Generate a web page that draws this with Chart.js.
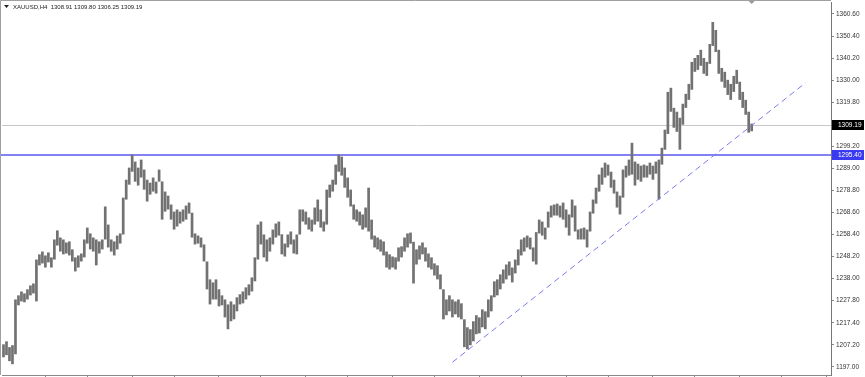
<!DOCTYPE html>
<html>
<head>
<meta charset="utf-8">
<script src="https://cdn.jsdelivr.net/npm/chart.js@4.4.1/dist/chart.umd.min.js"></script>
<style>
  html, body { margin: 0; padding: 0; background: #fff; }
  #wrap { width: 865px; height: 377px; position: relative; }
</style>
</head>
<body>
<div id="wrap"><canvas id="chart"></canvas></div>
<script>
// XAUUSD H4 - barres high/low
const symbol = 'XAUUSD,H4'
const lastBar = [ '1308.91', '1309.80', '1306.25', '1309.19' ] // O H L C

const highs = [
  1207.5, 1208.9, 1206.2, 1207.1, 1228.3, 1230.2, 1232.0, 1231.1, 1233.0, 1234.8,
  1235.7, 1246.8, 1249.2, 1250.5, 1248.7, 1250.1, 1247.8, 1256.1, 1260.3, 1257.0,
  1256.1, 1254.7, 1255.2, 1251.5, 1247.8, 1248.7, 1249.6, 1256.1, 1261.6, 1258.9,
  1257.0, 1256.1, 1255.2, 1256.1, 1271.4, 1263.0, 1256.1, 1255.2, 1257.9, 1258.9,
  1275.5, 1283.8, 1289.4, 1295.4, 1292.2, 1289.4, 1293.1, 1288.5, 1283.8, 1282.4,
  1284.8, 1282.9, 1288.5, 1283.0, 1278.3, 1276.4, 1272.3, 1269.0, 1270.0, 1269.0,
  1270.0, 1271.8, 1273.2, 1268.5, 1258.9, 1257.9, 1257.0, 1253.8, 1245.9, 1237.6,
  1236.2, 1237.6, 1233.0, 1230.2, 1228.3, 1226.0, 1227.4, 1226.0, 1229.3, 1230.7,
  1232.0, 1233.9, 1235.3, 1238.5, 1247.8, 1263.0, 1264.4, 1258.4, 1256.1, 1257.0,
  1260.7, 1263.5, 1264.4, 1258.5, 1254.2, 1258.4, 1259.8, 1256.1, 1258.4, 1270.0,
  1270.0, 1269.0, 1266.3, 1265.3, 1270.9, 1274.6, 1270.0, 1264.4, 1279.2, 1281.5,
  1283.8, 1290.8, 1295.4, 1294.5, 1289.4, 1284.8, 1279.2, 1272.3, 1270.0, 1269.0,
  1267.7, 1270.9, 1280.1, 1265.3, 1257.9, 1257.0, 1256.1, 1255.2, 1250.5, 1249.2,
  1248.2, 1247.8, 1252.4, 1252.9, 1257.0, 1258.9, 1259.3, 1255.0, 1251.5, 1253.3,
  1254.7, 1252.4, 1249.6, 1247.8, 1245.0, 1244.1, 1239.9, 1233.0, 1228.3, 1230.2,
  1228.3, 1227.4, 1228.3, 1226.5, 1219.1, 1215.4, 1214.5, 1218.2, 1221.0, 1220.0,
  1223.7, 1222.8, 1228.3, 1230.2, 1236.7, 1237.6, 1239.9, 1242.2, 1244.5, 1245.9,
  1243.1, 1246.8, 1251.5, 1256.1, 1257.0, 1257.9, 1257.0, 1252.4, 1259.5, 1265.3,
  1264.4, 1261.6, 1269.0, 1271.8, 1272.3, 1272.7, 1271.8, 1273.2, 1270.0, 1267.7,
  1274.6, 1271.8, 1260.7, 1261.2, 1261.6, 1260.7, 1269.0, 1274.6, 1280.1, 1286.2,
  1289.4, 1291.7, 1290.8, 1287.5, 1283.8, 1278.3, 1276.4, 1288.5, 1290.3, 1293.1,
  1300.9, 1292.2, 1291.2, 1290.3, 1290.8, 1290.3, 1291.7, 1290.3, 1292.2, 1293.1,
  1298.6, 1307.0, 1324.5, 1326.4, 1317.1, 1315.3, 1312.5, 1319.0, 1323.6, 1328.2,
  1338.4, 1340.2, 1341.6, 1344.0, 1340.2, 1338.4, 1346.7, 1356.9, 1353.2, 1344.0,
  1335.6, 1333.8, 1330.1, 1328.2, 1331.9, 1334.7, 1329.2, 1324.5, 1320.8, 1315.3,
  1309.8
]

const lows = [
  1201.5, 1202.5, 1199.7, 1198.3, 1202.9, 1225.6, 1227.4, 1227.0, 1228.3, 1230.2,
  1231.1, 1227.4, 1244.1, 1245.0, 1243.1, 1245.5, 1243.1, 1246.8, 1253.3, 1250.5,
  1249.2, 1249.6, 1248.7, 1245.9, 1241.3, 1243.1, 1245.9, 1247.8, 1254.2, 1251.5,
  1250.5, 1244.1, 1249.6, 1251.5, 1256.1, 1252.4, 1250.5, 1248.7, 1251.5, 1254.2,
  1258.4, 1274.6, 1281.5, 1287.5, 1282.9, 1281.1, 1284.8, 1279.2, 1273.7, 1276.9,
  1278.3, 1277.4, 1282.9, 1265.3, 1269.0, 1270.0, 1265.3, 1260.7, 1262.1, 1263.5,
  1264.4, 1265.3, 1268.1, 1257.0, 1253.8, 1254.2, 1252.4, 1245.9, 1233.0, 1226.0,
  1228.3, 1228.3, 1225.1, 1225.6, 1220.0, 1214.5, 1218.2, 1219.1, 1222.8, 1226.0,
  1226.5, 1228.3, 1230.2, 1232.0, 1236.7, 1246.8, 1253.8, 1247.8, 1245.9, 1250.5,
  1253.8, 1257.0, 1257.9, 1249.2, 1248.2, 1252.4, 1253.8, 1249.6, 1249.2, 1258.4,
  1264.4, 1263.0, 1260.7, 1259.8, 1263.0, 1264.4, 1261.6, 1259.8, 1263.0, 1275.5,
  1278.3, 1281.5, 1287.5, 1285.7, 1280.1, 1275.5, 1271.4, 1265.3, 1264.4, 1262.6,
  1260.7, 1261.6, 1259.8, 1256.1, 1252.4, 1251.5, 1250.5, 1248.7, 1243.1, 1242.2,
  1243.1, 1242.2, 1245.9, 1247.8, 1250.5, 1252.4, 1254.2, 1235.7, 1244.5, 1246.8,
  1249.2, 1245.9, 1243.1, 1242.2, 1239.4, 1237.6, 1233.0, 1219.1, 1221.0, 1222.8,
  1220.0, 1221.4, 1220.0, 1219.1, 1206.2, 1205.2, 1207.1, 1208.9, 1212.2, 1212.6,
  1215.4, 1214.5, 1220.0, 1222.8, 1229.3, 1230.2, 1233.0, 1235.7, 1237.6, 1239.4,
  1236.2, 1240.4, 1244.1, 1248.7, 1250.5, 1252.4, 1251.5, 1245.9, 1244.5, 1258.9,
  1257.9, 1256.1, 1261.6, 1266.3, 1267.2, 1267.2, 1266.3, 1265.3, 1261.6, 1257.9,
  1266.3, 1259.8, 1256.1, 1256.1, 1256.1, 1252.4, 1259.8, 1268.1, 1272.7, 1278.3,
  1281.5, 1284.8, 1285.7, 1280.1, 1277.4, 1270.9, 1267.7, 1275.5, 1284.8, 1285.7,
  1286.2, 1281.1, 1283.8, 1282.9, 1284.8, 1284.8, 1286.2, 1283.8, 1286.6, 1274.6,
  1290.8, 1297.7, 1305.0, 1315.3, 1307.9, 1306.0, 1297.7, 1309.3, 1317.1, 1320.8,
  1325.5, 1333.8, 1334.7, 1336.6, 1332.9, 1331.9, 1337.5, 1345.8, 1343.0, 1332.9,
  1329.2, 1326.4, 1323.1, 1320.8, 1324.5, 1328.2, 1320.8, 1317.1, 1313.9, 1305.6,
  1306.25
]

const emptyBars = 26 // décalage à droite du graphique
const yTicks = [ 1197.0, 1207.2, 1217.4, 1227.8, 1238.0, 1248.2, 1258.4, 1268.6,
  1278.8, 1289.0, 1299.2, 1309.6, 1319.8, 1330.0, 1340.2, 1350.4, 1360.6 ]
const xTickIdx = [ 14, 28, 43, 57, 72, 86, 101, 115, 130, 144, 159, 173, 188, 202, 217, 231, 246, 260, 275 ]

const levelPrice = 1295.40
const bidPrice = 1309.19
const trendX = [ 150, 268 ]
const trendY = [ 1199.2, 1328.7 ]

const yMin = 1193.29
const yMax = 1366.16

const labels = []
for ( let i = 0; i < highs.length + emptyBars; i++ ) labels.push( i )

const bars = highs.map( ( h, i ) => [ lows[ i ], h ] )

const FONT = '"Liberation Sans", Arial, sans-serif'

// lignes horizontales, étiquettes de prix et titre
const overlay = {
    id: 'overlay',
    beforeDatasetsDraw( chart ) {
        const { ctx, chartArea: a, scales: { y } } = chart
        ctx.save()
        let py = Math.round( y.getPixelForValue( bidPrice ) ) + 0.5
        ctx.strokeStyle = '#c8c8c8'
        ctx.lineWidth = 1
        ctx.beginPath(); ctx.moveTo( a.left, py ); ctx.lineTo( a.right, py ); ctx.stroke()
        py = Math.round( y.getPixelForValue( levelPrice ) )
        ctx.strokeStyle = '#8282f5'
        ctx.lineWidth = 2
        ctx.beginPath(); ctx.moveTo( 0, py ); ctx.lineTo( a.right, py ); ctx.stroke()
        ctx.restore()
    },
    afterDraw( chart ) {
        const { ctx, chartArea: a, scales: { x, y } } = chart
        ctx.save()
        // cadre
        ctx.strokeStyle = '#a0a0a0'
        ctx.lineWidth = 1
        ctx.beginPath()
        ctx.moveTo( a.right, 0.5 ); ctx.lineTo( 0.5, 0.5 ); ctx.lineTo( 0.5, a.bottom )
        ctx.stroke()

        // étiquettes sur l'axe
        const box = ( v, txt, bg ) => {
            const py = Math.round( y.getPixelForValue( v ) )
            ctx.fillStyle = bg
            ctx.fillRect( a.right + 1, py - 5, 32, 10 )
            ctx.fillStyle = '#fff'
            ctx.font = '6.5px ' + FONT
            ctx.textBaseline = 'middle'
            ctx.fillText( txt, a.right + 7, py + 0.5 )
        }
        box( bidPrice, bidPrice.toFixed( 2 ), '#000' )
        box( levelPrice, levelPrice.toFixed( 2 ), '#3a3af2' )

        // marque de décalage
        const sx = x.getPixelForValue( highs.length - 1 )
        ctx.fillStyle = '#999'
        ctx.beginPath(); ctx.moveTo( sx - 3, 1 ); ctx.lineTo( sx + 3, 1 ); ctx.lineTo( sx, 4 ); ctx.fill()

        // titre
        ctx.fillStyle = '#222'
        ctx.beginPath(); ctx.moveTo( 4, 5 ); ctx.lineTo( 9, 5 ); ctx.lineTo( 6.5, 8 ); ctx.fill()
        ctx.font = '6px ' + FONT
        ctx.textBaseline = 'middle'
        ctx.fillText( symbol + '  ' + lastBar.join( ' ' ), 13, 7 )
        ctx.restore()
    }
}

const noPad = s => { s.paddingTop = 0; s.paddingBottom = 0; s.paddingLeft = 0; s.paddingRight = 0 }

new Chart( document.getElementById( 'chart' ), {
    type: 'bar',
    data: {
        labels: labels,
        datasets: [
            {
                label: symbol,
                data: bars,
                backgroundColor: '#727272',
                borderWidth: 0,
                barPercentage: 0.9,
                categoryPercentage: 1,
                order: 2
            },
            {
                type: 'line',
                label: 'trend',
                data: [ { x: trendX[ 0 ], y: trendY[ 0 ] }, { x: trendX[ 1 ], y: trendY[ 1 ] } ],
                borderColor: '#7a7aec',
                borderWidth: 1,
                borderDash: [ 6, 4 ],
                pointRadius: 0,
                fill: false,
                order: 1
            }
        ]
    },
    options: {
        responsive: true,
        maintainAspectRatio: false,
        animation: false,
        layout: { padding: { left: 2, top: 2, right: 0, bottom: 0 } },
        plugins: { legend: { display: false }, tooltip: { enabled: false } },
        scales: {
            x: {
                type: 'category',
                grid: { display: true, drawOnChartArea: false, offset: false, tickLength: 3, color: '#888' },
                border: { display: true, color: '#888' },
                ticks: { display: false },
                afterBuildTicks( s ) { s.ticks = xTickIdx.map( v => ( { value: v } ) ) },
                afterFit( s ) { s.height = 2; noPad( s ) }
            },
            y: {
                position: 'right',
                min: yMin,
                max: yMax,
                grid: { drawOnChartArea: false, tickLength: 3, color: '#888' },
                border: { display: true, color: '#777' },
                afterBuildTicks( s ) { s.ticks = yTicks.map( v => ( { value: v } ) ) },
                ticks: {
                    color: '#333',
                    padding: 2,
                    font: { family: FONT, size: 6.5 },
                    autoSkip: false,
                    callback: v => Number( v ).toFixed( 2 )
                },
                afterFit( s ) { s.width = 34; noPad( s ) }
            }
        }
    },
    plugins: [ overlay ]
} );
</script>
</body>
</html>
